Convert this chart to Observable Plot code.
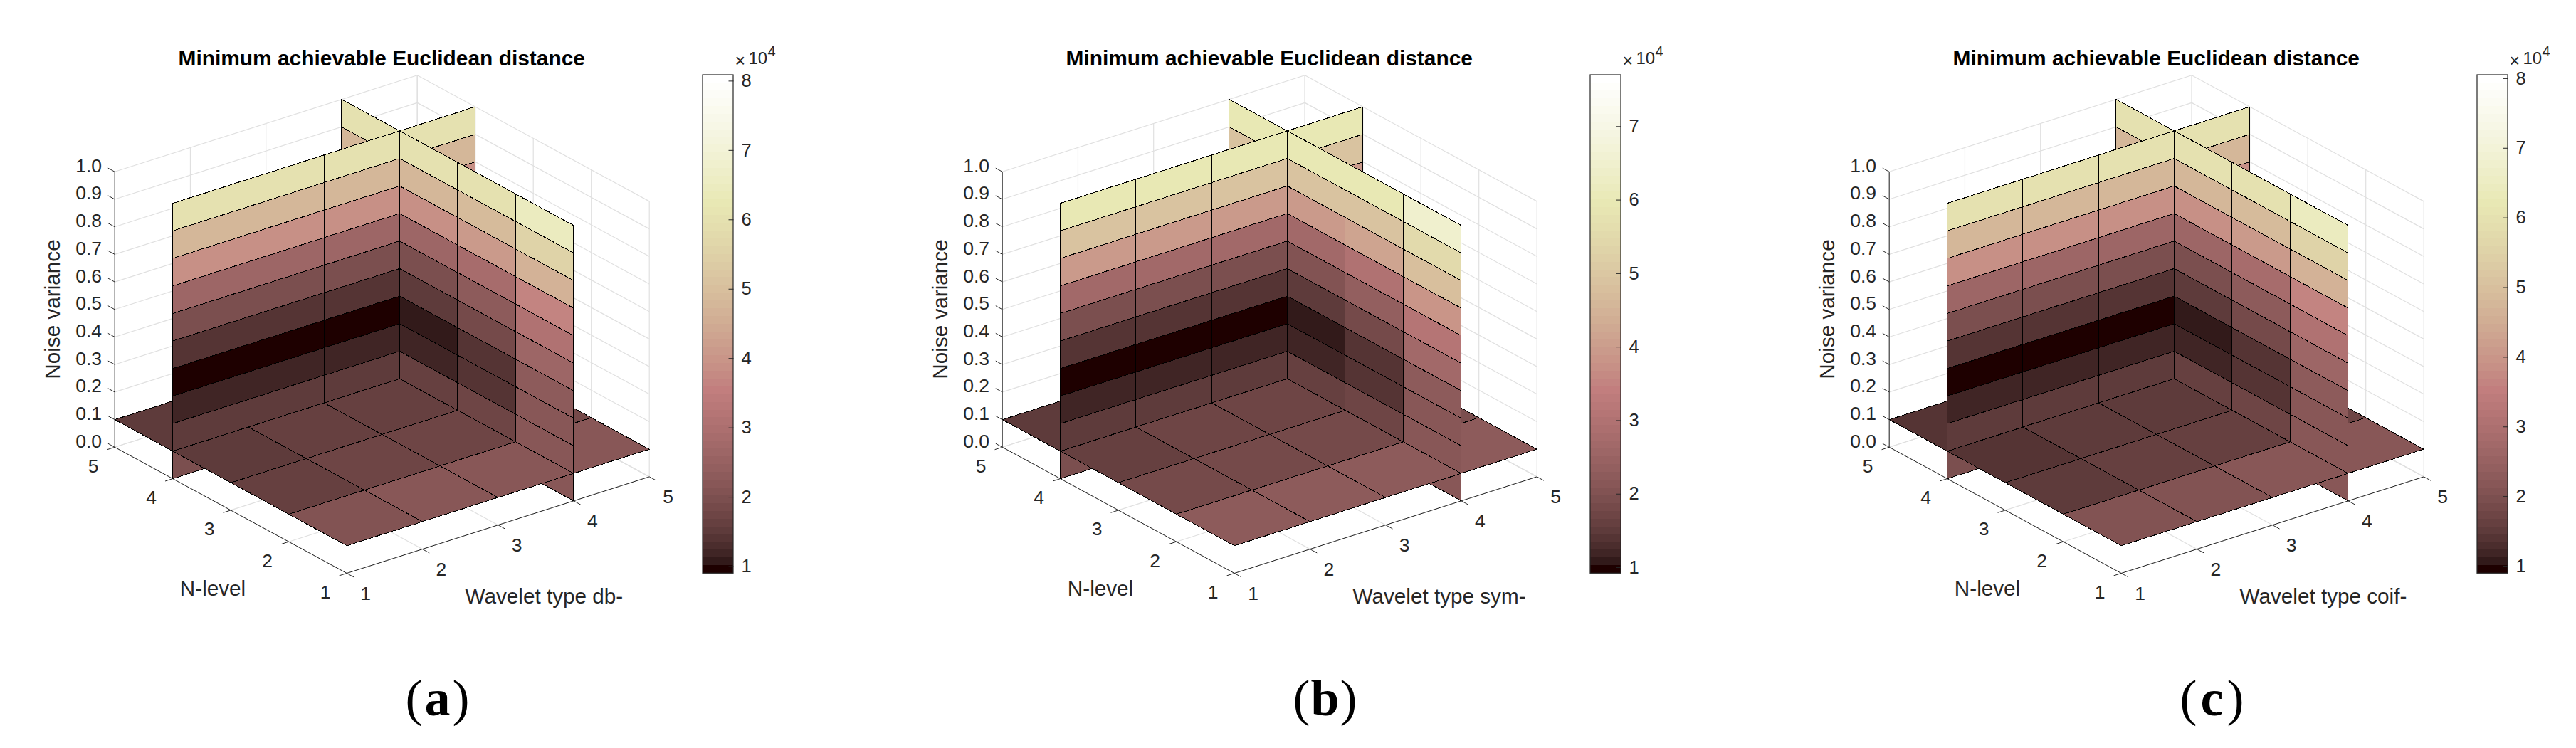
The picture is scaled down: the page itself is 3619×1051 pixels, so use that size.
<!DOCTYPE html>
<html>
<head>
<meta charset="utf-8">
<script src="https://cdn.jsdelivr.net/npm/d3@7"></script>
<script src="https://cdn.jsdelivr.net/npm/@observablehq/plot@0.6"></script>
<style>
html,body{margin:0;padding:0;background:#fff;overflow:hidden}
#page{display:flex;width:3619px;height:1051px}
svg{display:block}
</style>
</head>
<body>
<div id="page"></div>
<script>
// ---- values, x 10^4 ----
const waveletTicks = [1, 2, 3, 4, 5];
const levelTicks = [1, 2, 3, 4, 5];
const noiseTicks = [0, 0.1, 0.2, 0.3, 0.4, 0.5, 0.6, 0.7, 0.8, 0.9, 1.0];
const title = "Minimum achievable Euclidean distance";

// Slice at N-level 4: one value per noise band (top band first)
const levelSliceA = [6.0, 4.78, 3.88, 2.64, 1.97, 1.405, 0.956, 1.18, 1.52, 1.97];
const levelSliceB = [6.0, 4.85, 3.94, 2.70, 1.95, 1.40, 0.97, 1.18, 1.50, 1.95];
const levelSliceC = [6.0, 4.78, 3.88, 2.64, 1.97, 1.405, 0.95, 1.18, 1.52, 1.97];

// Slice at wavelet type 4: one row per N-level cell, top noise band first
const waveletSliceA = [
  [6.46, 5.56, 4.66, 3.65, 3.09, 2.64, 2.30, 2.19, 2.19, 2.19],
  [6.0, 4.89, 4.10, 2.86, 2.30, 1.85, 1.405, 1.405, 1.74, 2.0],
  [6.0, 4.78, 3.88, 2.64, 1.97, 1.52, 1.07, 1.18, 1.63, 1.97],
  [6.0, 4.78, 3.88, 2.64, 1.97, 1.41, 0.96, 1.18, 1.52, 1.97]
];
const waveletSliceB = [
  [6.43, 5.55, 4.75, 3.85, 3.09, 2.66, 2.27, 2.19, 2.19, 2.19],
  [6.0, 4.9, 4.1, 2.95, 2.3, 1.85, 1.4, 1.4, 1.74, 2.0],
  [6.0, 4.85, 3.94, 2.7, 2.0, 1.52, 1.07, 1.18, 1.6, 1.95],
  [6.0, 4.85, 3.94, 2.7, 1.95, 1.4, 0.97, 1.18, 1.5, 1.95]
];
const waveletSliceC = [
  [6.4, 5.5, 4.66, 3.65, 3.09, 2.64, 2.3, 2.19, 2.19, 2.19],
  [6.0, 4.89, 4.10, 2.86, 2.30, 1.85, 1.405, 1.405, 1.74, 2.0],
  [6.0, 4.78, 3.88, 2.64, 1.97, 1.52, 1.07, 1.18, 1.63, 1.97],
  [6.0, 4.78, 3.88, 2.64, 1.97, 1.41, 0.95, 1.18, 1.52, 1.97]
];

// Slice at noise variance 0.1: one row per N-level cell, one value per wavelet cell
const noiseSliceA = [
  [2.08, 2.19, 2.19, 2.19],
  [1.68, 1.70, 1.74, 1.85],
  [1.57, 1.63, 1.63, 1.74],
  [1.52, 1.57, 1.60, 1.70]
];
const noiseSliceB = [
  [2.2, 2.24, 2.24, 2.24],
  [1.77, 1.8, 1.85, 1.95],
  [1.61, 1.7, 1.75, 1.85],
  [1.5, 1.6, 1.65, 1.75]
];
const noiseSliceC = [
  [2.05, 2.12, 2.15, 2.18],
  [1.55, 1.58, 1.62, 1.74],
  [1.45, 1.5, 1.55, 1.6],
  [1.35, 1.4, 1.45, 1.55]
];

const panels = [
  {tag: "a", width: 1247, xlabel: "Wavelet type db-",  range: [0.90, 8.086], ticks: [1,2,3,4,5,6,7,8], level: levelSliceA, wavelet: waveletSliceA, noise: noiseSliceA},
  {tag: "b", width: 1246, xlabel: "Wavelet type sym-", range: [0.92, 7.70],  ticks: [1,2,3,4,5,6,7],   level: levelSliceB, wavelet: waveletSliceB, noise: noiseSliceB},
  {tag: "c", width: 1126, xlabel: "Wavelet type coif-",range: [0.895, 8.05], ticks: [1,2,3,4,5,6,7,8], level: levelSliceC, wavelet: waveletSliceC, noise: noiseSliceC}
];

// ---- view of the 3D box (orthographic) and layout ----
const view = {ox: 486.7, oy: 805, wx: 106.25, wy: -33.9, nx: -81.5, ny: -44.3, zy: -387};
const H = 1051;
const sliceLevel = 4, sliceWavelet = 4, sliceNoise = 0.1;
const bar = {x1: 987, x2: 1030, top: 105, bottom: 805.3};
const INK = "#262626", GRID = "#e0e0e0", FONT = "Liberation Sans";

const px = (w, n) => view.ox + view.wx * (w - 1) + view.nx * (n - 1);
const py = (w, n, z) => view.oy + view.wy * (w - 1) + view.ny * (n - 1) + view.zy * z;
const seg = (a, b) => ({x1: px(a[0], a[1]), y1: py(...a), x2: px(b[0], b[1]), y2: py(...b)});

// MATLAB "pink" colormap, 64 levels
function pinkMap(m) {
  const k = Math.floor(3 / 8 * m);
  return d3.range(m).map(i => {
    const g = i / (m - 1);
    const hr = i < k ? (i + 1) / k : 1;
    const hg = i < k ? 0 : i < 2 * k ? (i - k + 1) / k : 1;
    const hb = i < 2 * k ? 0 : (i - 2 * k + 1) / (m - 2 * k);
    const c = h => Math.round(255 * Math.sqrt((2 * g + h) / 3));
    return `rgb(${c(hr)},${c(hg)},${c(hb)})`;
  });
}
const palette = pinkMap(64);

function polygons(p) {
  const rows = [];
  let id = 0;
  const add = (v, corners) => {
    id++;
    for (const c of [...corners, corners[0]]) rows.push({id, v, x: px(c[0], c[1]), y: py(c[0], c[1], c[2])});
  };
  const levelCell = (wi, b) => {           // plane n = 4
    const zt = 1 - b * 0.1, zb = zt - 0.1;
    add(p.level[b], [[wi+1, sliceLevel, zb], [wi+2, sliceLevel, zb], [wi+2, sliceLevel, zt], [wi+1, sliceLevel, zt]]);
  };
  const waveCell = (ni, b) => {            // plane w = 4
    const zt = 1 - b * 0.1, zb = zt - 0.1;
    add(p.wavelet[ni][b], [[sliceWavelet, ni+1, zb], [sliceWavelet, ni+2, zb], [sliceWavelet, ni+2, zt], [sliceWavelet, ni+1, zt]]);
  };
  // back to front: each half space around the three planes
  const half = bands => {
    for (const b of bands) waveCell(3, b);
    for (const b of bands) for (const wi of [3, 0, 1, 2]) levelCell(wi, b);
    for (const b of bands) for (const ni of [2, 1, 0]) waveCell(ni, b);
  };
  half([9]);
  p.noise.forEach((row, ni) => row.forEach((v, wi) => {
    add(v, [[wi+1, ni+1, sliceNoise], [wi+2, ni+1, sliceNoise], [wi+2, ni+2, sliceNoise], [wi+1, ni+2, sliceNoise]]);
  }));
  half([0, 1, 2, 3, 4, 5, 6, 7, 8]);
  return rows;
}

function panel(p) {
  const [lo, hi] = p.range;
  const barY = v => bar.bottom + (bar.top - bar.bottom) * (v - lo) / (hi - lo);
  const thresholds = d3.range(1, 64).map(i => lo + (hi - lo) * i / 64);
  const bands = d3.range(64).map(i => {
    const a = lo + (hi - lo) * i / 64, b = lo + (hi - lo) * (i + 1) / 64;
    return {v: (a + b) / 2, y1: barY(a), y2: barY(b)};
  });

  const grid = [];
  for (const z of noiseTicks) {
    grid.push(seg([1, 5, z], [5, 5, z]));
    grid.push(seg([5, 1, z], [5, 5, z]));
  }
  for (const w of waveletTicks) {
    grid.push(seg([w, 1, 0], [w, 5, 0]));
    grid.push(seg([w, 5, 0], [w, 5, 1]));
  }
  for (const n of levelTicks) {
    grid.push(seg([1, n, 0], [5, n, 0]));
    grid.push(seg([5, n, 0], [5, n, 1]));
  }
  const axes = [seg([1, 5, 0], [1, 5, 1]), seg([1, 1, 0], [1, 5, 0]), seg([1, 1, 0], [5, 1, 0])];
  for (const z of noiseTicks) axes.push(seg([1, 5, z], [1, 5.115, z]));
  for (const n of levelTicks) axes.push(seg([1, n, 0], [0.9, n, 0]));
  for (const w of waveletTicks) axes.push(seg([w, 1, 0], [w, 0.88, 0]));

  const text = (data, o) => Plot.text(data, {fontFamily: FONT, fill: INK, lineAnchor: "middle", ...o});

  return Plot.plot({
    width: p.width, height: H,
    marginTop: 0, marginRight: 0, marginBottom: 0, marginLeft: 0,
    x: {domain: [0, p.width], range: [0, p.width], axis: null},
    y: {domain: [0, H], range: [0, H], axis: null},
    color: {type: "threshold", domain: thresholds, range: palette},
    style: {background: "white", fontFamily: FONT},
    marks: [
      Plot.link(grid, {x1: "x1", y1: "y1", x2: "x2", y2: "y2", stroke: GRID, strokeWidth: 1.2}),
      Plot.link(axes, {x1: "x1", y1: "y1", x2: "x2", y2: "y2", stroke: INK, strokeWidth: 1}),
      text(noiseTicks, {x: 142.5, y: z => py(1, 5, z) - 8, text: z => z.toFixed(1), textAnchor: "end", fontSize: 26.5}),
      text(levelTicks, {x: n => px(1, n) - 30, y: n => py(1, n, 0) + 27, text: n => String(n), fontSize: 26.5}),
      text(waveletTicks, {x: w => px(w, 1) + 26.5, y: w => py(w, 1, 0) + 29, text: w => String(w), fontSize: 26.5}),
      text(["Noise variance"], {x: 74, y: 434, rotate: -90, fontSize: 29.7}),
      text(["N-level"], {x: 298.5, y: 826.5, fontSize: 29.7}),
      text([p.xlabel], {x: 653, y: 838, textAnchor: "start", fontSize: 29.7}),
      Plot.line(polygons(p), {x: "x", y: "y", z: "id", fill: "v", stroke: "black", strokeWidth: 1, shapeRendering: "crispEdges"}),
      text([title], {x: 535.7, y: 81.5, fontSize: 29.9, fontWeight: "bold", fill: "black"}),
      // colorbar
      Plot.rect(bands, {x1: bar.x1, x2: bar.x2, y1: "y1", y2: "y2", fill: "v", shapeRendering: "crispEdges"}),
      Plot.link(p.ticks, {x1: bar.x2 - 7, x2: bar.x2, y1: barY, y2: barY, stroke: INK, strokeWidth: 1}),
      Plot.rect([p.range], {x1: bar.x1, x2: bar.x2, y1: bar.top, y2: bar.bottom, fill: "none", stroke: INK, strokeWidth: 1.2}),
      text(p.ticks, {x: 1041, y: barY, text: v => String(v), textAnchor: "start", fontSize: 25.5}),
      text(["\u00d7"], {x: 1032, y: 85, textAnchor: "start", fontSize: 25}),
      text(["10"], {x: 1051, y: 82, textAnchor: "start", fontSize: 24}),
      text(["4"], {x: 1078, y: 72, textAnchor: "start", fontSize: 20}),
      // caption
      text(["("], {x: 614 - 21, y: 981, textAnchor: "end", fontSize: 72, fontFamily: "Liberation Serif", fill: "black"}),
      text([p.tag], {x: 614, y: 981, fontSize: 72, fontWeight: "bold", fontFamily: "Liberation Serif", fill: "black"}),
      text([")"], {x: 614 + 21, y: 981, textAnchor: "start", fontSize: 72, fontFamily: "Liberation Serif", fill: "black"})
    ]
  });
}

const page = document.getElementById("page");
for (const p of panels) page.appendChild(panel(p));
</script>
</body>
</html>
